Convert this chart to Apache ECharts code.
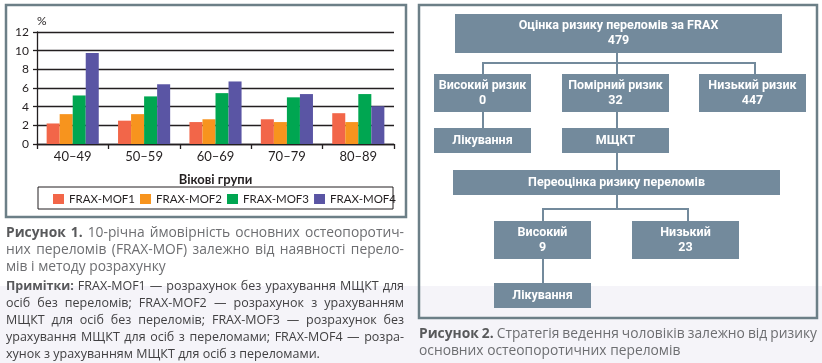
<!DOCTYPE html>
<html><head><meta charset="utf-8">
<script src="https://cdn.jsdelivr.net/npm/echarts@6/dist/echarts.min.js"></script>
<style>html,body{margin:0;padding:0;background:#fff}#c{width:822px;height:363px}</style>
</head><body><div id="c"></div>
<script>
// ---- data ----
const categories = ['40–49', '50–59', '60–69', '70–79', '80–89'];
const seriesNames = ['FRAX-MOF1', 'FRAX-MOF2', 'FRAX-MOF3', 'FRAX-MOF4'];
const mof1 = [2.2, 2.5, 2.35, 2.65, 3.3];
const mof2 = [3.2, 3.2, 2.65, 2.35, 2.35];
const mof3 = [5.2, 5.1, 5.45, 5.0, 5.35];
const mof4 = [9.75, 6.4, 6.7, 5.35, 4.05];
const yMin = 0, yMax = 12, yStep = 2;
const colors = ['#f26649', '#f7941e', '#00a651', '#5a55a4'];

// flowchart content
const flowTop = ['Оцінка ризику переломів за FRAX', '479'];
const riskLevels = ['Високий ризик', 'Помірний ризик', 'Низький ризик'];
const riskCounts = ['0', '32', '447'];
const nextSteps = ['Лікування', 'МЩКТ'];
const reassessLabel = 'Переоцінка ризику переломів';
const reLevels = ['Високий', 'Низький'];
const reCounts = ['9', '23'];
const finalStep = 'Лікування';

// captions
const cap1 = [
  [['Рисунок 1.', 1], ['10-річна ймовірність основних остеопоротич-', 0]],
  [['них переломів (FRAX-MOF) залежно від наявності перело-', 0]],
  [['мів і методу розрахунку', 0]]
];
const notes1 = [
  [['Примітки:', 1], ['FRAX-MOF1 — розрахунок без урахування МЩКТ для', 0]],
  [['осіб без переломів; FRAX-MOF2 — розрахунок з урахуванням', 0]],
  [['МЩКТ для осіб без переломів; FRAX-MOF3 — розрахунок без', 0]],
  [['урахування МЩКТ для осіб з переломами; FRAX-MOF4 — розра-', 0]],
  [['хунок з урахуванням МЩКТ для осіб з переломами.', 0]]
];
const cap2 = [
  [['Рисунок 2.', 1], ['Стратегія ведення чоловіків залежно від ризику', 0]],
  [['основних остеопоротичних переломів', 0]]
];

// ---- helpers ----
const FF = 'Lato';
const CF = 'Open Sans';
const mctx = document.createElement('canvas').getContext('2d');
function fontStr(bold, size, fam) { return (bold ? 'bold ' : '') + size + 'px "' + fam + '"'; }
function measure(t, f) { mctx.font = f; return mctx.measureText(t).width; }
function textLine(segs, x, y, width, justify, size, fam, cReg, cBold) {
  const words = [];
  segs.forEach(([t, b]) => t.split(' ').filter(Boolean).forEach(w => words.push({ w, b })));
  const widths = words.map(o => measure(o.w, fontStr(o.b, size, fam)));
  const sum = widths.reduce((a, b) => a + b, 0);
  const sp = measure(' ', fontStr(false, size, fam));
  const gap = justify && words.length > 1 ? (width - sum) / (words.length - 1) : sp;
  let cx = x;
  const els = [];
  words.forEach((o, i) => {
    els.push({ type: 'text', x: cx, y: y, style: {
      text: o.w, fontSize: size, fontFamily: fam, fontWeight: o.b ? 'bold' : 'normal',
      fill: o.b ? cBold : cReg, verticalAlign: 'middle', align: 'left' } });
    cx += widths[i] + gap;
  });
  return els;
}
const BOX = '#738a9c';
function box(x, y, w, h, lines) {
  const els = [{ type: 'rect', shape: { x, y, width: w, height: h }, style: { fill: BOX } }];
  const cy = y + h / 2;
  const lh = 15;
  lines.forEach((t, i) => {
    els.push({ type: 'text', x: x + w / 2, y: cy + (i - (lines.length - 1) / 2) * lh, style: {
      text: t, fill: '#fff', fontSize: 12.5, fontWeight: 'bold', fontFamily: 'Roboto',
      align: 'center', verticalAlign: 'middle' } });
  });
  return els;
}
function seg(pts) {
  return { type: 'polyline', shape: { points: pts }, style: { stroke: BOX, lineWidth: 2, fill: null } };
}

const g = [];
// background band
g.push({ type: 'rect', z: -10, shape: { x: 0, y: 286, width: 822, height: 77 }, style: { fill: '#f5f4f9' } });
// panel borders
g.push({ type: 'rect', shape: { x: 6, y: 5, width: 400, height: 212 }, style: { fill: null, stroke: '#6c7f87', lineWidth: 2.5 } });
g.push({ type: 'rect', shape: { x: 419, y: 5, width: 398, height: 313 }, style: { fill: null, stroke: '#6c7f87', lineWidth: 2.5 } });
// legend border
g.push({ type: 'rect', shape: { x: 38, y: 187, width: 355, height: 22 }, style: { fill: null, stroke: '#231f20', lineWidth: 1 } });

// flowchart connectors
g.push(seg([[617, 53], [617, 63]]));
g.push(seg([[483, 74], [483, 63], [755, 63], [755, 74]]));
g.push(seg([[617, 63], [617, 74]]));
g.push(seg([[483, 112], [483, 128]]));
g.push(seg([[617, 112], [617, 128]]));
g.push(seg([[617, 153], [617, 170]]));
g.push(seg([[617, 195], [617, 209]]));
g.push(seg([[543, 221], [543, 209], [688, 209], [688, 221]]));
g.push(seg([[543, 259], [543, 283]]));
// flowchart boxes
g.push(...box(455, 14, 327, 39, flowTop));
g.push(...box(434, 74, 97, 38, [riskLevels[0], riskCounts[0]]));
g.push(...box(562, 74, 107, 38, [riskLevels[1], riskCounts[1]]));
g.push(...box(699, 74, 107, 38, [riskLevels[2], riskCounts[2]]));
g.push(...box(434, 128, 97, 25, [nextSteps[0]]));
g.push(...box(562, 128, 107, 25, [nextSteps[1]]));
g.push(...box(453, 170, 327, 25, [reassessLabel]));
g.push(...box(494, 221, 97, 38, [reLevels[0], reCounts[0]]));
g.push(...box(632, 221, 107, 38, [reLevels[1], reCounts[1]]));
g.push(...box(494, 283, 97, 25, [finalStep]));

// captions
const capY1 = [233, 250, 267];
cap1.forEach((l, i) => g.push(...textLine(l, 6, capY1[i], 398, i < cap1.length - 1, 13.8, CF, '#6d6e71', '#58595b')));
const notesY = [286, 303, 320, 337, 354];
notes1.forEach((l, i) => g.push(...textLine(l, 6, notesY[i], 398, i < notes1.length - 1, 12.5, CF, '#414042', '#58595b')));
const capY2 = [334, 351];
cap2.forEach((l, i) => g.push(...textLine(l, 419, capY2[i], 398, i < cap2.length - 1, 13.8, CF, '#6d6e71', '#58595b')));

const chart = echarts.init(document.getElementById('c'), null, { renderer: 'canvas' });
const axisCol = '#231f20';
chart.setOption({
  backgroundColor: 'transparent',
  animation: false,
  textStyle: { fontFamily: FF },
  grid: { left: 37, top: 32, width: 357, height: 112 },
  legend: {
    data: seriesNames, left: 53, top: 193, itemWidth: 11, itemHeight: 10, itemGap: 5,
    icon: 'rect', padding: 0,
    textStyle: { fontSize: 11.5, color: axisCol, fontFamily: FF, width: 63, overflow: 'none' }
  },
  xAxis: {
    type: 'category', data: categories,
    axisLine: { lineStyle: { color: axisCol, width: 1.3 } },
    axisTick: { show: true, length: 5, lineStyle: { color: axisCol, width: 1.3 } },
    axisLabel: { fontSize: 13, color: axisCol, margin: 6, fontFamily: FF },
    name: 'Вікові групи', nameLocation: 'middle', nameGap: 29,
    nameTextStyle: { fontWeight: 'bold', fontSize: 13, color: axisCol, fontFamily: FF }
  },
  yAxis: {
    type: 'value', min: yMin, max: yMax, interval: yStep,
    axisLine: { show: true, lineStyle: { color: axisCol, width: 1.3 } },
    axisTick: { show: true, length: 4, lineStyle: { color: axisCol, width: 1.3 } },
    splitLine: { lineStyle: { color: axisCol, width: 1.3 } },
    axisLabel: { fontSize: 12, color: axisCol, margin: 8, fontFamily: FF },
    name: '%', nameLocation: 'end', nameGap: 5,
    nameTextStyle: { align: 'left', fontSize: 12, color: axisCol, fontFamily: FF }
  },
  series: [mof1, mof2, mof3, mof4].map((d, i) => ({
    name: seriesNames[i], type: 'bar', data: d, barGap: 0, barCategoryGap: '27%',
    itemStyle: { color: colors[i] }
  })),
  graphic: g
});
</script>
</body></html>
